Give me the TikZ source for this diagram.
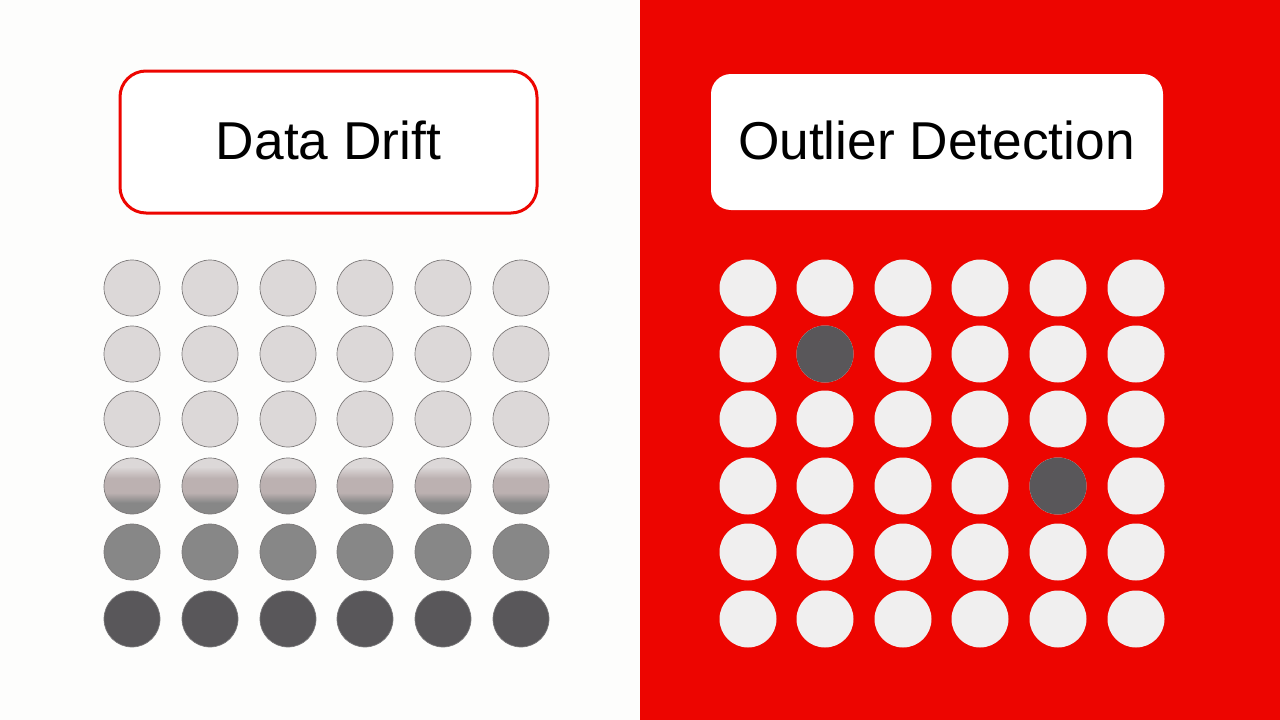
\documentclass[tikz,border=0pt]{standalone}
\usepackage{fontspec}
\setmainfont{Liberation Sans}
\definecolor{bgwhite}{RGB}{253,253,252}
\definecolor{bgred}{RGB}{237,5,0}
\definecolor{light}{RGB}{220,216,216}
\definecolor{mauve}{RGB}{188,177,177}
\definecolor{midgray}{RGB}{135,135,135}
\definecolor{darkgray}{RGB}{89,87,90}
\definecolor{rimgray}{RGB}{125,122,122}
\definecolor{dotwhite}{RGB}{240,239,239}
\pgfdeclareverticalshading{driftshade}{100bp}{color(0bp)=(midgray); color(25bp)=(midgray); color(35bp)=(midgray); color(44bp)=(mauve); color(57bp)=(mauve); color(67bp)=(light); color(100bp)=(light)}
\tikzset{
  ldot/.style={circle, minimum size=56pt, inner sep=0pt, draw=rimgray, line width=0.7pt},
  rdot/.style={circle, minimum size=57pt, inner sep=0pt, fill=dotwhite},
  title/.style={font=\fontsize{53.3}{60}\selectfont, text=black, anchor=base, inner sep=0pt},
}
\begin{document}
\begin{tikzpicture}[x=1pt,y=-1pt]
\useasboundingbox (0,0) rectangle (1280,720);
\fill[bgwhite] (0,0) rectangle (640,720);
\fill[bgred] (640,0) rectangle (1280,720);
% boxes
\draw[bgred, line width=3pt, fill=white, rounded corners=26pt] (120,71) rectangle (537,213);
\fill[white, rounded corners=20pt] (711,74) rectangle (1163,210);
\node[title] (dd) at (328.5,159) {Data Drift};
\node[title] (od) at (936.5,159) {Outlier Detection};
% left grid
\foreach \x [count=\i] in {132,210,288,365,443,521}{
  \foreach \y [count=\j] in {288,354,419,486,552,619}{
    \ifnum\j<4
      \node[ldot, fill=light] (l\i\j) at (\x,\y) {};
    \else\ifnum\j=4
      \node[ldot, shading=driftshade] (l\i\j) at (\x,\y) {};
    \else\ifnum\j=5
      \node[ldot, fill=midgray] (l\i\j) at (\x,\y) {};
    \else
      \node[ldot, fill=darkgray, draw=darkgray!80!white] (l\i\j) at (\x,\y) {};
    \fi\fi\fi
  }
}
% right grid
\foreach \x [count=\i] in {748,825,903,980,1058,1136}{
  \foreach \y [count=\j] in {288,354,419,486,552,619}{
    \node[rdot] (r\i\j) at (\x,\y) {};
  }
}
\node[rdot, fill=darkgray] at (r22) {};
\node[rdot, fill=darkgray] at (r54) {};
\end{tikzpicture}
\end{document}
